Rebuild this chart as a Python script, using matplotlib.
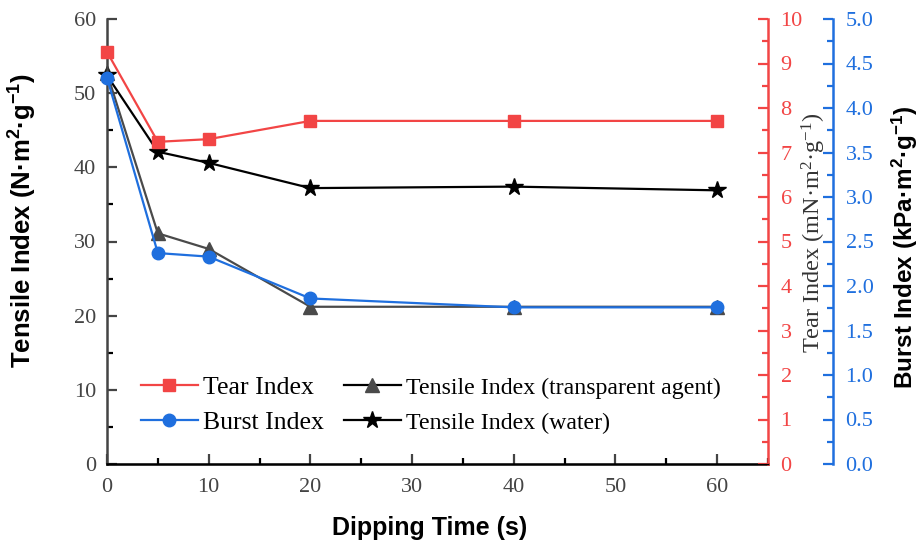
import matplotlib
matplotlib.use("Agg")
import matplotlib.pyplot as plt
from matplotlib.ticker import MultipleLocator, FormatStrFormatter

# dipping time (s)
time_s = [0, 5, 10, 20, 40, 60]
tear_index = [9.26, 7.24, 7.30, 7.71, 7.71, 7.71]
burst_index = [4.34, 2.37, 2.33, 1.86, 1.76, 1.76]
tensile_agent = [52.7, 31.1, 29.0, 21.2, 21.2, 21.2]
tensile_water = [52.4, 42.1, 40.6, 37.2, 37.4, 36.9]

red = "#f24545"
blue = "#1f6fde"
serif = "Liberation Serif"
sans = "Liberation Sans"

fig = plt.figure(figsize=(9.22, 5.44), dpi=100)
ax = fig.add_axes([107/922, 1-464/544, 661/922, 445/544])
ax2 = ax.twinx()
ax3 = ax.twinx()
ax3.spines["right"].set_position(("axes", 1 + 65/661))

l_agent, = ax.plot(time_s, tensile_agent, color="#4a4a4a", lw=1.6, marker="^",
                   ms=10, mfc="#4a4a4a", mec="#4a4a4a", clip_on=False)
l_water, = ax.plot(time_s, tensile_water, color="black", lw=1.6, marker="*",
                   ms=13, mfc="black", mec="black", clip_on=False)
l_tear, = ax2.plot(time_s, tear_index, color=red, lw=1.6, marker="s", ms=8.5,
                   mec=red, clip_on=False)
l_burst, = ax3.plot(time_s, burst_index, color=blue, lw=1.6, marker="o", ms=9,
                    mec=blue, clip_on=False)

ax.set_xlim(0, 65)
ax.set_ylim(0, 60)
ax2.set_ylim(0, 10)
ax3.set_ylim(0, 5)

ax.xaxis.set_major_locator(MultipleLocator(10))
ax.xaxis.set_minor_locator(MultipleLocator(5))
ax.yaxis.set_major_locator(MultipleLocator(10))
ax.yaxis.set_minor_locator(MultipleLocator(5))
ax2.yaxis.set_major_locator(MultipleLocator(1))
ax2.yaxis.set_minor_locator(MultipleLocator(0.5))
ax3.yaxis.set_major_locator(MultipleLocator(0.5))
ax3.yaxis.set_minor_locator(MultipleLocator(0.25))
ax3.yaxis.set_major_formatter(FormatStrFormatter("%.1f"))

for a in (ax, ax2, ax3):
    a.spines["top"].set_visible(False)
ax.spines["right"].set_visible(False)
ax2.spines["left"].set_visible(False)
ax3.spines["left"].set_visible(False)
ax.spines["bottom"].set_color("black")
ax.spines["left"].set_color("#444444")
ax2.spines["right"].set_color(red)
ax3.spines["right"].set_color(blue)
for sp in ("bottom", "left"):
    ax.spines[sp].set_linewidth(1.8)
ax2.spines["right"].set_linewidth(1.8)
ax3.spines["right"].set_linewidth(1.8)

ax.tick_params(axis="both", which="both", direction="in", width=1.6)
ax.tick_params(axis="both", which="major", length=7, labelsize=16,
               colors="#444444")
ax.tick_params(axis="x", which="major", pad=10)
ax.tick_params(axis="y", which="major", pad=8)
ax.tick_params(axis="both", which="minor", length=4)
ax2.tick_params(axis="y", which="both", direction="in", width=1.6,
                colors=red, labelsize=16)
ax2.tick_params(axis="y", which="major", length=7, pad=9)
ax2.tick_params(axis="y", which="minor", length=4)
ax3.tick_params(axis="y", which="both", direction="in", width=1.6,
                colors=blue, labelsize=16)
ax3.tick_params(axis="y", which="major", length=7, pad=9)
ax3.tick_params(axis="y", which="minor", length=4)
for a in (ax, ax2, ax3):
    for lab in a.get_xticklabels() + a.get_yticklabels():
        lab.set_fontfamily(serif)

ax.set_xlabel("Dipping Time (s)", fontfamily=sans, fontweight="bold",
              fontsize=18)
ax.xaxis.set_label_coords((430-107)/661, (464-516)/445)
ax.set_ylabel(r"Tensile Index (N·m$\mathregular{^2}$·g$\mathregular{^{-1}}$)",
              fontfamily=sans, fontweight="bold", fontsize=18.5)
ax.yaxis.set_label_coords((39-107)/661, (464-221)/445)
ax2.set_ylabel(r"Tear Index (mN·m$\mathregular{^2}$·g$\mathregular{^{-1}}$)",
               fontfamily=serif, fontsize=17.5, color="#333333")
ax2.yaxis.set_label_coords((800-107)/661, (464-233)/445)
ax3.set_ylabel(r"Burst Index (kPa·m$\mathregular{^2}$·g$\mathregular{^{-1}}$)",
               fontfamily=sans, fontweight="bold", fontsize=17.5)
ax3.yaxis.set_label_coords((890-107)/661, (464-247)/445)

leg = ax3.legend([l_tear, l_burst, l_agent, l_water],
                 ["Tear Index", "Burst Index",
                  "Tensile Index (transparent agent)", "Tensile Index (water)"],
                 ncol=2, frameon=False, loc="upper left",
                 bbox_to_anchor=(141/922, 1-376/544),
                 bbox_transform=fig.transFigure, borderpad=0,
                 borderaxespad=0, handlelength=2.2, handletextpad=0.2,
                 columnspacing=0.8, labelspacing=0.45,
                 prop={"family": serif, "size": 18.5})
leg.legend_handles[2].set_color("black")
for t in leg.get_texts()[2:]:
    t.set_fontsize(17.2)

fig.savefig("out.png", dpi=100)
